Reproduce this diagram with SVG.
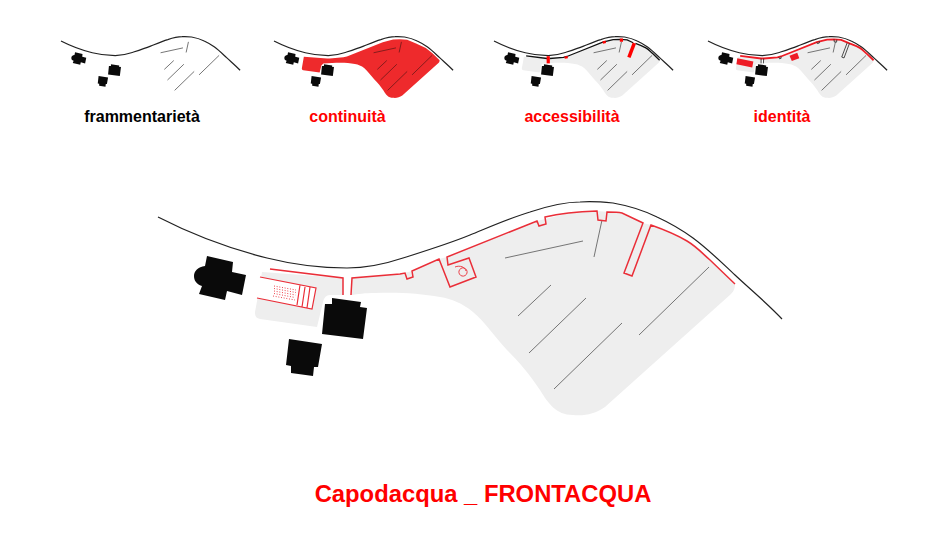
<svg xmlns="http://www.w3.org/2000/svg" width="950" height="538" viewBox="0 0 950 538">
<style>
.lab{font-family:"Liberation Sans",Arial,sans-serif;font-weight:700;text-anchor:middle}
.coast{stroke:#222;stroke-width:1.2;fill:none;vector-effect:non-scaling-stroke}
.ln{stroke:#666;stroke-width:.9;fill:none;vector-effect:non-scaling-stroke}
.wall{fill:none;vector-effect:non-scaling-stroke}
.bld{fill:#0a0a0a}
.grey{fill:#eee}
</style>
<defs>
<path id="coast" class="coast" d="M158,217C195,236 235,250 267,258C295,265 322,268 347,268C368,268 385,264 403,258C425,251 448,244 470,235C492,226 510,218 530,212C548,206 565,202 580,202C592,201 603,202 613,203C630,206 645,211 657,217C670,223 682,230 693,238C708,249 721,262 735,275C751,290 768,304 782,319"/>
<g id="bld">
<path class="bld" d="M207,256L233,262L232,272L246,275L242,295L227,291L225,300L199,294L202,286C196,284 194,280 194,276C194,271 198,267 205,266Z"/>
<path class="bld" d="M332,298L361,302L360,307L367,308L363,339L322,334L325,304L332,304Z"/>
<path class="bld" d="M289,339L322,344L318,367L314,367L313,376L291,373L291,366L286,365Z"/>
</g>
<g id="lines">
<path class="ln" d="M505,258L583,241M602,220L594,257M518,316L551,285M529,353L586,298M554,389L622,323M639,335L709,267"/>
</g>
<path id="area" d="M262,272L343,278L343,295L330,295C326,295 324,298 323,302L317,327L260,319C256,318 255,316 255,312L258,296L262,272ZM352,278L400,274L412,271L439,259L447,257L537,221L573,212L597,211L622,213L643,223L651,225L687,241L710,260L735,284C735,288 734,291 731,294L605,407C595,414 585,416 573,415C556,415 548,403 540,390C530,375 520,363 507,350C495,337 485,322 473,312C462,303 452,299 440,297C420,293 395,292 375,293C365,293 358,294 351,295Z"/>
<path id="wallA" d="M270,269L343,278L343,295"/>
<path id="wallB" d="M351,295L352,278L400,274L405,273L407,279L413,277L412,271L439,259L450,287L476,277L469,258L448,265L447,257L537,221L539,226L546,224L545,217C558,214 570,212 597,211L598,220L606,221L607,212C614,212 618,212 622,213L643,223L624,273L632,276L651,225C665,230 677,235 687,241C697,247 703,254 710,260L735,284"/>
</defs>

<g id="main-plan">
<use href="#area" class="grey"/>
<polygon points="260,277 316,288 312,309 257,298 250,290" fill="#fff"/>
<use href="#coast"/>
<use href="#lines"/>
<g stroke="#ea2e38" stroke-width="1.5" fill="none">
<use href="#wallA"/>
<use href="#wallB"/>
<path stroke-width="1.2" d="M260,277L316,288L312,309L257,298M300,285L297,305M305,287L302,307M310,287L307,308"/>
<path stroke-width=".9" d="M455,267C460,265 465,267 466,271M459,271a4,4 0 1 0 8,2a4,4 0 1 0 -8,-2"/>
<path stroke-width=".9" stroke-dasharray="1 1.7" d="M274,286L296,290M274,288.500L296,292.500M274,291L295.500,295M274,293.500L295,297.500M273,296L295,300"/>
</g>
<use href="#bld"/>
</g>

<g id="thumb-frammentarieta" transform="translate(61,41) scale(.287) translate(-158,-217)">
<use href="#coast"/><use href="#lines"/><use href="#bld"/>
</g>

<g id="thumb-continuita" transform="translate(274,41) scale(.287) translate(-158,-217)">
<path d="M262,272L343,278L352,278L400,274L412,271L447,257L537,221L573,212L597,211L622,213L651,225L687,241L710,260L735,284C735,288 734,291 731,294L605,407C595,414 585,416 573,415C556,415 548,403 540,390C530,375 520,363 507,350C495,337 485,322 473,312C462,303 452,299 440,297C420,293 395,292 375,293L330,295L323,302L317,327L260,319C256,318 255,316 255,312Z" fill="#ee2a2c"/>
<use href="#coast"/>
<path class="ln" style="stroke:#7a1a1a" d="M505,258L583,241M602,220L594,257M518,316L551,285M529,353L586,298M554,389L622,323M639,335L709,267"/>
<use href="#bld"/>
</g>

<g id="thumb-accessibilita" transform="translate(494,41) scale(.287) translate(-158,-217)">
<use href="#area" class="grey"/>
<use href="#coast"/><use href="#lines"/>
<path class="wall" stroke="#111" stroke-width="1.3" d="M270,269L343,278M352,278L400,274L412,271L447,257L537,221L573,212L597,211L622,213L643,223M651,225C665,230 677,235 687,241C697,247 703,254 710,260L735,284"/>
<g>
<path class="wall" stroke="#f00" stroke-width="3.200" d="M347,270L347,295"/>
<path class="wall" stroke="#f00" stroke-width="3.200" d="M409,270L410,278M541,217L543,225M602,208L602,220"/>
<path class="wall" stroke="#f00" stroke-width="3.500" d="M647,224L628,274"/>
</g>
<use href="#bld"/>
</g>

<g id="thumb-identita" transform="translate(708,41) scale(.287) translate(-158,-217)">
<use href="#area" class="grey"/>
<use href="#coast"/><use href="#lines"/>
<path class="wall" stroke="#ee1c25" stroke-width="1.800" d="M270,269L343,278L352,278L400,274L412,271L447,257L537,221L573,212L597,211L622,213L651,225C665,230 677,235 687,241C697,247 703,254 710,260L735,284"/>
<path class="wall" stroke="#222" stroke-width=".8" d="M343,278L343,295M351,295L352,278M405,273L407,279L413,277L412,271M537,221L539,226L546,224L545,217M597,211L598,220L606,221L607,212M643,223L624,273L632,276L651,225"/>
<polygon points="260,277 316,288 312,309 257,298" fill="#ee1c25"/>
<polygon points="442,268 469,258 476,277 450,287" fill="#ee1c25"/>
<use href="#bld"/>
</g>

<g id="labels">
<text class="lab" x="142" y="122" font-size="16" fill="#000">frammentarietà</text>
<text class="lab" x="347.500" y="122" font-size="16" fill="#f00">continuità</text>
<text class="lab" x="572" y="122" font-size="16" fill="#f00">accessibilità</text>
<text class="lab" x="782" y="122" font-size="16" fill="#f00">identità</text>
<text class="lab" x="483" y="502" font-size="23.800" fill="#f00">Capodacqua _ FRONTACQUA</text>
</g>
</svg>
